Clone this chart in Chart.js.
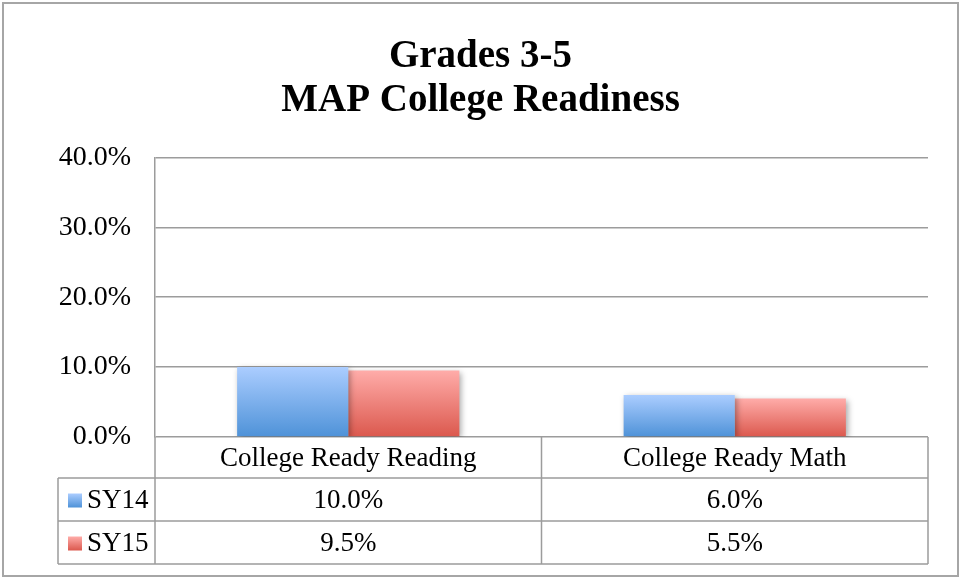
<!DOCTYPE html>
<html lang="en">
<head>
    <meta charset="UTF-8" />
    <title>Grades 3-5 MAP College Readiness</title>
    <script src="https://cdn.jsdelivr.net/npm/chart.js"></script>
    <style>
        html, body { margin: 0; padding: 0; background: #fff; }
        #wrap { width: 961px; height: 578px; position: relative; }
    </style>
</head>
<body>
    <div id="wrap"><canvas id="chart" width="961" height="578"></canvas></div>

    <script>
        const categories = ['College Ready Reading', 'College Ready Math'];
        const seriesNames = ['SY14', 'SY15'];
        const sy14 = [10.0, 6.0];
        const sy15 = [9.5, 5.5];
        const titleLines = ['Grades 3-5', 'MAP College Readiness'];

        const FONT = "'Liberation Serif', 'DejaVu Serif', serif";
        const GRID = '#9c9c9c';
        const colors = [
            { top: '#abcdff', bottom: '#4e92d8' },
            { top: '#ffaca9', bottom: '#db584d' }
        ];

        function barGradient(idx) {
            return (ctx) => {
                const chart = ctx.chart;
                if (!chart.chartArea || ctx.raw === undefined) return colors[idx].bottom;
                const y = chart.scales.y;
                const top = y.getPixelForValue(ctx.raw);
                const base = y.getPixelForValue(0);
                const g = chart.ctx.createLinearGradient(0, top, 0, base);
                g.addColorStop(0, colors[idx].top);
                g.addColorStop(1, colors[idx].bottom);
                return g;
            };
        }

        // outer frame + soft shadow under the bars
        const framePlugin = {
            id: 'frame',
            beforeDraw(chart) {
                const c = chart.ctx;
                c.save();
                c.strokeStyle = '#a6a6a6';
                c.lineWidth = 2;
                c.strokeRect(3, 3, chart.width - 6, chart.height - 5);
                c.restore();
            },
            beforeDatasetsDraw(chart) {
                const c = chart.ctx;
                c.save();
                c.shadowColor = 'rgba(0,0,0,0.35)';
                c.shadowBlur = 6;
                c.shadowOffsetX = 2;
                c.shadowOffsetY = 2;
            },
            afterDatasetsDraw(chart) {
                chart.ctx.restore();
            }
        };

        // data table under the plot
        const tablePlugin = {
            id: 'dataTable',
            afterDraw(chart) {
                const c = chart.ctx;
                const area = chart.chartArea;
                const x = chart.scales.x;
                const left = 58, r0 = area.bottom, r1 = 478, r2 = 521, r3 = 564;
                const mid = (x.getPixelForValue(0) + x.getPixelForValue(1)) / 2;
                c.save();
                c.strokeStyle = GRID;
                c.lineWidth = 1.5;
                c.beginPath();
                // vertical lines
                c.moveTo(area.left, r0); c.lineTo(area.left, r3);
                c.moveTo(mid, r0); c.lineTo(mid, r3);
                c.moveTo(area.right, r0); c.lineTo(area.right, r3);
                c.moveTo(left, r1); c.lineTo(left, r3);
                // horizontal lines
                c.moveTo(left, r1); c.lineTo(area.right, r1);
                c.moveTo(left, r2); c.lineTo(area.right, r2);
                c.moveTo(left, r3); c.lineTo(area.right, r3);
                c.stroke();

                c.fillStyle = '#000';
                c.font = '27px ' + FONT;
                c.textAlign = 'center';
                c.textBaseline = 'middle';
                categories.forEach((cat, i) => {
                    c.fillText(cat, x.getPixelForValue(i), (r0 + r1) / 2 + 1);
                });
                const rows = [sy14, sy15];
                const ys = [(r1 + r2) / 2 + 1, (r2 + r3) / 2 + 1];
                rows.forEach((vals, ri) => {
                    vals.forEach((v, i) => {
                        c.textAlign = 'center';
                        c.fillText(v.toFixed(1) + '%', x.getPixelForValue(i), ys[ri]);
                    });
                    // legend key
                    const g = c.createLinearGradient(0, ys[ri] - 7, 0, ys[ri] + 7);
                    g.addColorStop(0, colors[ri].top);
                    g.addColorStop(1, colors[ri].bottom);
                    c.fillStyle = g;
                    c.fillRect(68, ys[ri] - 7, 14, 14);
                    c.fillStyle = '#000';
                    c.textAlign = 'left';
                    c.fillText(seriesNames[ri], 87, ys[ri]);
                });
                c.restore();
            }
        };

        const ctx = document.getElementById('chart').getContext('2d');
        const chart = new Chart(ctx, {
            type: 'bar',
            data: {
                labels: categories,
                datasets: [
                    { label: seriesNames[0], data: sy14, backgroundColor: barGradient(0) },
                    { label: seriesNames[1], data: sy15, backgroundColor: barGradient(1) }
                ]
            },
            options: {
                responsive: false,
                animation: false,
                categoryPercentage: 0.575,
                barPercentage: 1,
                layout: { padding: { left: 0, right: 0, top: 0, bottom: 141 } },
                plugins: {
                    legend: { display: false },
                    tooltip: { enabled: false },
                    title: {
                        display: true,
                        text: titleLines,
                        color: '#000',
                        font: { family: FONT, size: 39, weight: 'bold', lineHeight: 1.12 },
                        padding: { top: 35, bottom: 35 }
                    }
                },
                scales: {
                    x: { display: false },
                    y: {
                        min: 0,
                        max: 40,
                        afterFit(scale) { scale.width = 155; },
                        ticks: {
                            stepSize: 10,
                            padding: 24,
                            color: '#000',
                            font: { family: FONT, size: 28 },
                            callback: (v) => v.toFixed(1) + '%'
                        },
                        grid: { color: GRID, lineWidth: 1.5, drawTicks: false },
                        border: { color: GRID, width: 1.5 }
                    },
                    // empty right margin so the title centres on the full width
                    yRight: {
                        type: 'linear',
                        position: 'right',
                        afterFit(scale) { scale.width = 33; },
                        ticks: { display: false },
                        grid: { display: false },
                        border: { display: false }
                    }
                }
            },
            plugins: [framePlugin, tablePlugin]
        });
    </script>
</body>
</html>
